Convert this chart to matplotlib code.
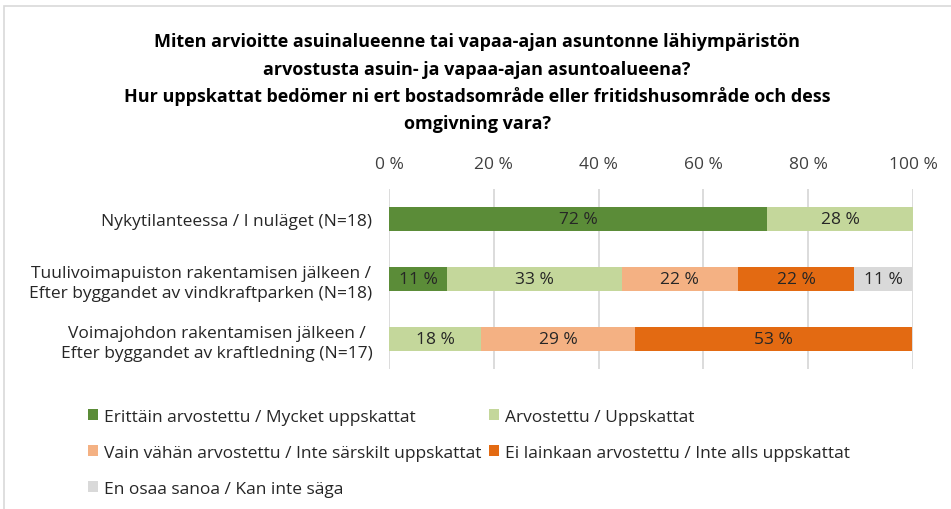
import matplotlib
matplotlib.use("Agg")
import matplotlib.pyplot as plt
from matplotlib.patches import Rectangle
import numpy as np

plt.rcParams['font.family'] = ['Liberation Sans Narrow', 'Open Sans', 'DejaVu Sans']

categories = [
    "Nykytilanteessa / I nuläget (N=18)",
    "Tuulivoimapuiston rakentamisen jälkeen /\nEfter byggandet av vindkraftparken (N=18)",
    "Voimajohdon rakentamisen jälkeen /\nEfter byggandet av kraftledning (N=17)",
]
series_names = [
    "Erittäin arvostettu / Mycket uppskattat",
    "Arvostettu / Uppskattat",
    "Vain vähän arvostettu / Inte särskilt uppskattat",
    "Ei lainkaan arvostettu / Inte alls uppskattat",
    "En osaa sanoa / Kan inte säga",
]
very_appreciated = [72.2, 11.1, 0]
appreciated = [27.8, 33.3, 17.6]
slightly = [0, 22.2, 29.4]
not_at_all = [0, 22.2, 52.9]
dont_know = [0, 11.1, 0]
colors = ["#5B8C38", "#C4D79B", "#F4B183", "#E36A12", "#D9D9D9"]
xticks = [0, 20, 40, 60, 80, 100]
xtick_labels = ["0 %", "20 %", "40 %", "60 %", "80 %", "100 %"]
title_lines = [
    "Miten arvioitte asuinalueenne tai vapaa-ajan asuntonne lähiympäristön",
    "arvostusta asuin- ja vapaa-ajan asuntoalueena?",
    "Hur uppskattat bedömer ni ert bostadsområde eller fritidshusområde och dess",
    "omgivning vara?",
]

W, H = 951, 510
fig = plt.figure(figsize=(W / 100, H / 100), dpi=100)

# outer frame
fig.patches.append(Rectangle((4 / W, -0.1), 2.0, (H - 7) / H + 0.1, transform=fig.transFigure,
                             fill=False, edgecolor="#D9D9D9", linewidth=1.2))

ax = fig.add_axes([389 / W, (H - 370) / H, (913 - 389) / W, 180 / H])

series = [very_appreciated, appreciated, slightly, not_at_all, dont_know]
y = np.arange(len(categories))
left = np.zeros(len(categories))
handles = []
for vals, col, name in zip(series, colors, series_names):
    vals = np.array(vals, dtype=float)
    bars = ax.barh(y, vals, left=left, height=0.4, color=col, label=name, zorder=3)
    handles.append(bars)
    for rect, v in zip(bars, vals):
        if v > 0:
            ax.text(rect.get_x() + rect.get_width() / 2, rect.get_y() + rect.get_height() / 2,
                    f"{v:.0f} %", ha="center", va="center", fontsize=12.5, color="#262626", zorder=4)
    left += vals

ax.set_xlim(0, 100)
ax.set_ylim(2.5, -0.5)
ax.set_xticks(xticks)
ax.set_xticklabels(xtick_labels, fontsize=12.5, color="#404040")
ax.xaxis.tick_top()
ax.tick_params(axis="x", length=0, pad=12)
ax.set_yticks(y)
ax.set_yticklabels(categories, fontsize=12.5, color="#262626", multialignment="center", linespacing=1.3)
ax.tick_params(axis="y", length=0, pad=12)
ax.grid(axis="x", color="#D9D9D9", linewidth=1.3, zorder=0)
for s in ax.spines.values():
    s.set_visible(False)

# title
for ty, line in zip([42, 70, 97, 124], title_lines):
    fig.text(477 / W, 1 - ty / H, line, ha="center", va="center", fontsize=13, fontweight="bold", color="#000000")

order = [0, 2, 4, 1, 3]
leg = fig.legend([handles[i] for i in order], [series_names[i] for i in order], ncol=2,
                 loc="upper left", bbox_to_anchor=(72 / W, 1 - 394 / H), frameon=False,
                 fontsize=12.5, handlelength=0.6, handleheight=0.6, handletextpad=0.35,
                 columnspacing=0.4, labelspacing=1.15, labelcolor="#262626")

fig.savefig("out.png", dpi=100)
